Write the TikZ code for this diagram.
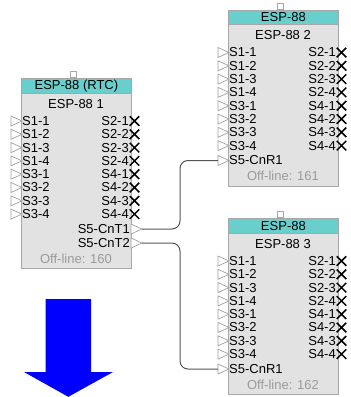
\documentclass[tikz,border=0pt]{standalone}
\usepackage{fontspec}
\setmainfont{Liberation Sans}
\usetikzlibrary{shapes.geometric,shapes.misc}

\definecolor{boxfill}{HTML}{E2E2E2}
\definecolor{boxline}{HTML}{A8A8A8}
\definecolor{headfill}{HTML}{68CFCC}
\definecolor{pinline}{HTML}{A0A0A0}
\definecolor{offtext}{HTML}{9A9A9A}
\definecolor{wirecol}{HTML}{555555}

\begin{document}
\begin{tikzpicture}[x=1pt,y=-1pt,font=\fontsize{13}{14}\selectfont,
    box/.style={draw=boxline,fill=boxfill,line width=0.8pt,inner sep=0pt,anchor=north west},
    head/.style={draw=boxline,fill=headfill,line width=0.8pt,inner sep=0pt,anchor=north west,
                 minimum width=110pt,minimum height=14.5pt},
    tab/.style={draw=boxline,fill=white,line width=0.7pt,inner sep=0pt,minimum width=6pt,
                minimum height=6pt,anchor=south},
    pin/.style={isosceles triangle,isosceles triangle apex angle=50,isosceles triangle stretches,
                minimum width=10pt,minimum height=11pt,inner sep=0pt,outer sep=0pt,draw=pinline,
                fill=white,line width=0.7pt,anchor=west},
    xmark/.style={cross out,draw=black,line width=1.5pt,minimum size=8pt,inner sep=0pt},
    port/.style={inner sep=0pt},
    wire/.style={draw=wirecol,line width=1pt,rounded corners=8pt}]
  \useasboundingbox (0,0) rectangle (351,397);

  % the three units
  \foreach \b/\lx/\ty/\hd/\ttl/\off/\hgt in {
      b1/21/78/{ESP-88 (RTC)}/{ESP-88 1}/160/190,
      b2/228/9.5/{ESP-88}/{ESP-88 2}/161/176,
      b3/228/218/{ESP-88}/{ESP-88 3}/162/176}{
    \node[box,minimum width=110pt,minimum height=\hgt pt] (\b) at (\lx,\ty) {};
    \node[tab] (\b-tab) at (\lx+52,\ty) {};
    \node[head] (\b-hd) at (\lx,\ty) {\hd};
    \node[port] (\b-ttl) at (\lx+55,\ty+26) {\ttl};
    \node[port,text=offtext] (\b-off) at (\lx+55,\ty+\hgt-9.5) {Off-line: \off};
    \foreach \s/\o [count=\i from 0] in {1-1/2-1,1-2/2-2,1-3/2-3,1-4/2-4,
                                         3-1/4-1,3-2/4-2,3-3/4-3,3-4/4-4}{
      \node[pin] (\b-in\i) at (\lx-10,\ty+43+13.3*\i) {};
      \node[port,anchor=west] (\b-inl\i) at (\lx+1,\ty+43+13.3*\i) {S\s};
      \node[port,anchor=east] (\b-outl\i) at (\lx+108,\ty+43+13.3*\i) {S\o};
      \node[xmark] (\b-x\i) at (\lx+113.5,\ty+43+13.3*\i) {};
    }
  }

  % S5 ports
  \node[pin] (b1-t1) at (131,229) {};
  \node[port,anchor=east] (b1-t1l) at (130,229) {S5-CnT1};
  \node[pin] (b1-t2) at (131,243) {};
  \node[port,anchor=east] (b1-t2l) at (130,243) {S5-CnT2};
  \node[pin] (b2-r1) at (218,160.5) {};
  \node[port,anchor=west] (b2-r1l) at (229,160.5) {S5-CnR1};
  \node[pin] (b3-r1) at (218,369) {};
  \node[port,anchor=west] (b3-r1l) at (229,369) {S5-CnR1};

  \draw[wire] (b1-t1.east) -- ++(38,0) |- (b2-r1.west);
  \draw[wire] (b1-t2.east) -- ++(38,0) |- (b3-r1.west);

  % big arrow
  \fill[blue] (45.5,299) -- (91,299) -- (91,372) -- (113,372) -- (68.3,396.8)
              -- (24,372) -- (45.5,372) -- cycle;
\end{tikzpicture}
\end{document}
